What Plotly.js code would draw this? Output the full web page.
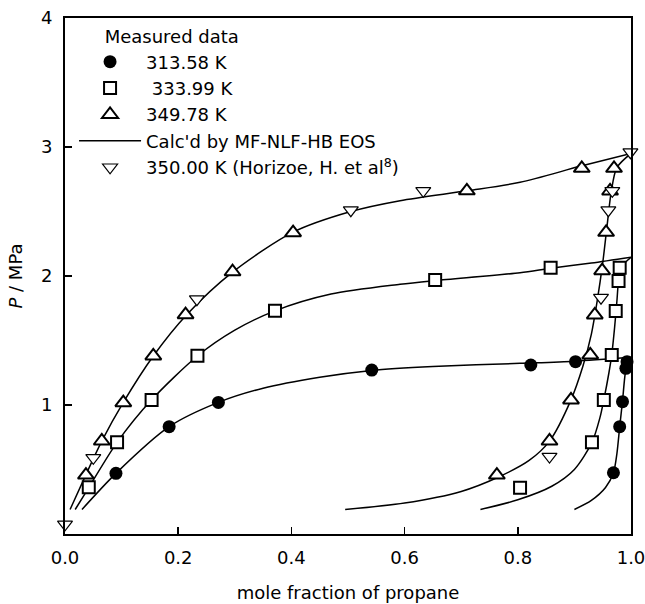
<!DOCTYPE html>
<html>
<head>
<meta charset="utf-8">
<script src="https://cdn.plot.ly/plotly-3.0.1.min.js"></script>
<style>html,body{margin:0;padding:0;background:#fff}#chart{width:645px;height:604px}</style>
</head>
<body>
<div id="chart"></div>
<script>
// Measured data (mole fraction of propane, P / MPa)
const x313 = [0.090, 0.184, 0.271, 0.542, 0.823, 0.902, 0.969, 0.980, 0.985, 0.991, 0.993];
const y313 = [0.47, 0.832, 1.02, 1.271, 1.31, 1.336, 0.475, 0.832, 1.026, 1.284, 1.336];

const x334 = [0.042, 0.092, 0.153, 0.234, 0.371, 0.654, 0.858, 0.804, 0.931, 0.952, 0.966, 0.973, 0.978, 0.980];
const y334 = [0.362, 0.711, 1.039, 1.382, 1.731, 1.969, 2.064, 0.359, 0.711, 1.039, 1.388, 1.729, 1.961, 2.064];

const x350 = [0.037, 0.065, 0.103, 0.156, 0.213, 0.296, 0.403, 0.71, 0.913, 0.763, 0.856, 0.894, 0.928, 0.936, 0.949, 0.956, 0.963, 0.970];
const y350 = [0.457, 0.721, 1.018, 1.38, 1.70, 2.033, 2.336, 2.66, 2.835, 0.457, 0.721, 1.039, 1.388, 1.698, 2.041, 2.339, 2.659, 2.835];

const xLit = [0.0, 0.05, 0.233, 0.505, 0.633, 0.999, 0.856, 0.947, 0.960, 0.967];
const yLit = [0.075, 0.59, 1.82, 2.51, 2.66, 2.96, 0.60, 1.832, 2.51, 2.66];

// Calculated curves (MF-NLF-HB EOS)
const bub313x = [0.03, 0.09, 0.184, 0.271, 0.35, 0.45, 0.542, 0.65, 0.804, 0.90, 1.0];
const bub313y = [0.19, 0.47, 0.832, 1.02, 1.13, 1.215, 1.268, 1.298, 1.323, 1.34, 1.37];
const dew313x = [0.900, 0.930, 0.955, 0.969, 0.975, 0.980, 0.985, 0.990, 0.995, 1.0];
const dew313y = [0.19, 0.26, 0.36, 0.475, 0.62, 0.83, 1.03, 1.25, 1.34, 1.37];

const bub334x = [0.018, 0.042, 0.092, 0.153, 0.234, 0.30, 0.371, 0.47, 0.592, 0.654, 0.804, 0.858, 0.93, 1.0];
const bub334y = [0.19, 0.36, 0.71, 1.04, 1.38, 1.58, 1.73, 1.86, 1.936, 1.965, 2.026, 2.06, 2.10, 2.145];
const dew334x = [0.734, 0.80, 0.86, 0.90, 0.931, 0.945, 0.952, 0.961, 0.966, 0.971, 0.975, 0.979, 0.985, 1.0];
const dew334y = [0.19, 0.265, 0.37, 0.50, 0.71, 0.90, 1.04, 1.25, 1.39, 1.60, 1.80, 2.0, 2.08, 2.145];

const bub350x = [0.009, 0.037, 0.065, 0.103, 0.156, 0.215, 0.296, 0.403, 0.505, 0.592, 0.71, 0.804, 0.91, 1.0];
const bub350y = [0.19, 0.46, 0.72, 1.02, 1.38, 1.70, 2.03, 2.34, 2.50, 2.584, 2.66, 2.726, 2.85, 2.95];
const dew350x = [0.495, 0.60, 0.70, 0.765, 0.82, 0.856, 0.894, 0.915, 0.93, 0.94, 0.95, 0.958, 0.965, 0.975, 1.0];
const dew350y = [0.19, 0.24, 0.33, 0.44, 0.57, 0.72, 1.04, 1.30, 1.55, 1.80, 2.10, 2.40, 2.65, 2.84, 2.95];

const xTicks = [0.0, 0.2, 0.4, 0.6, 0.8, 1.0];
const yTicks = [1, 2, 3, 4];

const legendTitle = '&nbsp;&nbsp;&nbsp;&nbsp;&nbsp;Measured data';
const names = ['313.58 K', '&nbsp;333.99 K', '349.78 K', "Calc'd by MF-NLF-HB EOS", '350.00 K (Horizoe, H. et al<sup>8</sup>)'];

const lineStyle = {color: '#000', width: 1.5, shape: 'spline', smoothing: 0.8};
const curves = [[bub313x, bub313y], [dew313x, dew313y], [bub334x, bub334y], [dew334x, dew334y], [bub350x, bub350y], [dew350x, dew350y]];
const traces = curves.map((c, i) => ({
  x: c[0], y: c[1], mode: 'lines', type: 'scatter', line: lineStyle,
  name: names[3], legendgroup: 'calc', showlegend: i === 0, legendrank: 4,
  hoverinfo: 'skip', cliponaxis: false
}));

traces.push({x: x313, y: y313, mode: 'markers', type: 'scatter', name: names[0], legendrank: 1, cliponaxis: false,
  marker: {symbol: 'circle', size: 13, color: '#000', line: {width: 0}}});
traces.push({x: x334, y: y334, mode: 'markers', type: 'scatter', name: names[1], legendrank: 2, cliponaxis: false,
  marker: {symbol: 'square', size: 12, color: '#fff', line: {color: '#000', width: 2}}});
traces.push({x: x350, y: y350, mode: 'markers', type: 'scatter', name: names[2], legendrank: 3, cliponaxis: false,
  marker: {symbol: 'triangle-up', size: 14, color: '#fff', line: {color: '#000', width: 2}}});
traces.push({x: xLit, y: yLit, mode: 'markers', type: 'scatter', name: names[4], legendrank: 5, cliponaxis: false,
  marker: {symbol: 'triangle-down', size: 13, color: '#fff', line: {color: '#000', width: 1.2}}});

const font = {family: 'DejaVu Sans, Liberation Sans, Arial, sans-serif', size: 18, color: '#000'};

const layout = {
  width: 645, height: 604,
  margin: {l: 65, r: 14, t: 18, b: 70},
  paper_bgcolor: '#fff', plot_bgcolor: '#fff',
  font: font,
  showlegend: true,
  legend: {
    x: 0.016, y: 0.996, xanchor: 'left', yanchor: 'top',
    bgcolor: 'rgba(0,0,0,0)', borderwidth: 0,
    title: {text: legendTitle, font: font},
    font: font, itemwidth: 62, tracegroupgap: 0, traceorder: 'normal'
  },
  xaxis: {
    range: [0, 1], tickvals: xTicks, tickformat: '.1f',
    ticks: 'inside', ticklen: 7, tickwidth: 1.5, tickcolor: '#000',
    showline: true, linewidth: 2, linecolor: '#000', mirror: true,
    showgrid: false, zeroline: false, ticklabelstandoff: 6, ticklabeloverflow: 'allow',
    title: {text: 'mole fraction of propane', font: font, standoff: 20}
  },
  yaxis: {
    range: [0, 4], tickvals: yTicks,
    ticks: 'inside', ticklen: 7, tickwidth: 1.5, tickcolor: '#000',
    showline: true, linewidth: 2, linecolor: '#000', mirror: true,
    showgrid: false, zeroline: false, ticklabelstandoff: 7, ticklabeloverflow: 'allow',
    title: {text: '<i>P</i> / MPa', font: font, standoff: 14}
  }
};

Plotly.newPlot('chart', traces, layout, {staticPlot: true, displayModeBar: false});
</script>
</body>
</html>
